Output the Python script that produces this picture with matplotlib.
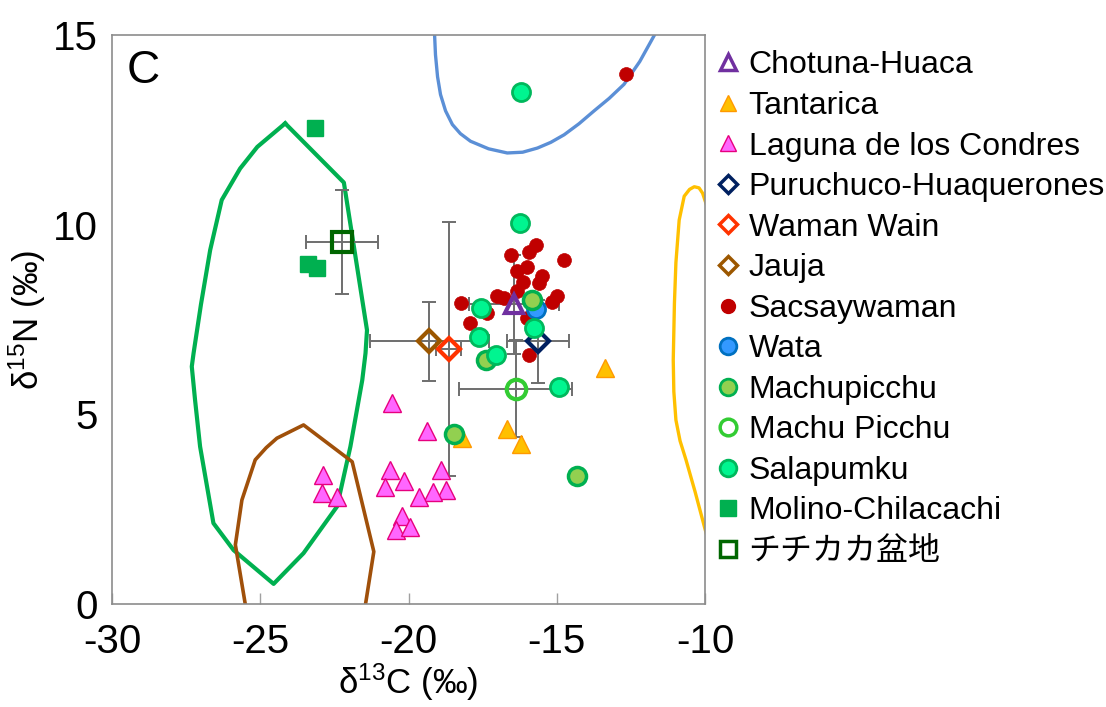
import matplotlib.pyplot as plt
from matplotlib.lines import Line2D

plt.rcParams['font.family'] = ['Liberation Sans', 'DejaVu Sans']
plt.rcParams['mathtext.fontset'] = 'custom'
plt.rcParams['mathtext.rm'] = 'Liberation Sans'
plt.rcParams['axes.unicode_minus'] = False

# ---- data ----
chotuna_x, chotuna_y = [-16.45], [7.90]
tantarica_x = [-13.38, -16.67, -16.22, -18.19]
tantarica_y = [6.21, 4.61, 4.22, 4.37]
laguna_x = [-20.54, -19.36, -22.88, -22.92, -22.41, -20.61, -20.78, -20.14,
            -18.89, -18.73, -19.18, -19.63, -20.21, -20.42, -19.96]
laguna_y = [5.30, 4.57, 3.40, 2.92, 2.83, 3.53, 3.09, 3.23,
            3.53, 3.01, 2.94, 2.83, 2.32, 1.95, 2.04]
puru_x, puru_y = [-15.63], [6.92]
waman_x, waman_y = [-18.64], [6.72]
jauja_x, jauja_y = [-19.30], [6.92]
sacsay_x = [-16.55, -15.94, -15.69, -14.75, -15.99, -16.35, -15.49, -15.60, -16.13, -16.35,
            -17.00, -16.78, -18.24, -14.98, -15.15, -17.34, -17.91, -15.99, -15.94, -12.67]
sacsay_y = [9.20, 9.29, 9.47, 9.07, 8.89, 8.77, 8.64, 8.46, 8.50, 8.24,
            8.11, 8.06, 7.93, 8.11, 7.97, 7.66, 7.42, 7.53, 6.57, 13.96]
wata_x, wata_y = [-15.71], [7.77]
machu_x = [-15.82, -17.40, -18.47, -14.32]
machu_y = [8.01, 6.43, 4.48, 3.37]
mp_x, mp_y = [-16.39], [5.67]
sala_x = [-16.22, -16.24, -17.57, -15.77, -17.62, -17.06, -14.92]
sala_y = [13.49, 10.04, 7.80, 7.27, 7.03, 6.57, 5.73]
molino_x = [-23.17, -23.40, -23.08]
molino_y = [12.56, 8.96, 8.87]
titi_x, titi_y = [-22.24], [9.54]

# mean +- sd bars: (x, y, xerr, yerr)
err_x = [-16.45, -15.63, -18.64, -19.30, -16.39, -22.24]
err_y = [7.90, 6.92, 6.72, 6.92, 5.67, 9.54]
err_xe = [1.52, 1.04, 0.42, 2.00, 1.90, 1.22]
err_ye = [1.30, 1.10, 3.35, 1.05, 1.28, 1.37]

# range outlines
green_px = [-24.16, -25.10, -25.68, -26.30, -26.69, -27.00, -27.25, -27.31, -27.20, -27.03,
            -26.58, -25.90, -24.55, -23.54, -22.41, -21.96, -21.56, -21.45, -21.40, -22.18,
            -24.16]
green_py = [12.67, 12.05, 11.48, 10.65, 9.33, 7.90, 6.61, 6.26, 5.38, 4.15,
            2.13, 1.42, 0.53, 1.34, 2.57, 4.15, 5.90, 6.61, 7.22, 11.11,
            12.67]
brown_px = [-25.40, -25.84, -25.62, -25.17, -24.80, -24.44, -23.54, -21.90, -21.17, -21.55]
brown_py = [-0.50, 1.56, 2.74, 3.80, 4.12, 4.37, 4.72, 3.75, 1.38, -0.50]
blue_px = [-19.13, -19.12, -19.09, -19.02, -18.92, -18.75, -18.52, -18.25, -17.91, -17.30,
           -16.67, -16.15, -15.65, -15.20, -14.75, -14.25, -13.74, -13.23, -12.73, -12.20,
           -11.71, -11.55]
blue_py = [15.30, 15.00, 14.48, 13.90, 13.43, 13.00, 12.64, 12.40, 12.20, 12.00,
           11.89, 11.91, 12.02, 12.17, 12.37, 12.66, 13.00, 13.33, 13.70, 14.30,
           14.99, 15.30]
yellow_px = [-9.80, -9.97, -10.08, -10.20, -10.36, -10.52, -10.70, -10.87, -10.98, -11.03,
             -11.07, -11.05, -10.98, -10.84, -10.64, -10.33, -10.02, -9.90]
yellow_py = [10.20, 10.57, 10.83, 10.97, 11.00, 10.93, 10.75, 10.12, 9.00, 7.93,
             6.43, 5.60, 4.85, 4.30, 3.80, 2.95, 2.04, 1.70]

fig = plt.figure(figsize=(11.06, 7.07), dpi=100)
ax = fig.add_axes([0.1013, 0.1457, 0.5361, 0.8048])

ax.plot(green_px, green_py, color='#00B050', lw=3, zorder=1)
ax.plot(brown_px, brown_py, color='#A0500A', lw=2.6, zorder=1)
ax.plot(blue_px, blue_py, color='#5B8FD6', lw=2.4, zorder=1)
ax.plot(yellow_px, yellow_py, color='#FFC000', lw=2.4, zorder=1)

ax.errorbar(err_x, err_y, xerr=err_xe, yerr=err_ye, fmt='none', ecolor='#6E6E6E',
            elinewidth=1.4, capsize=5, capthick=1.4, zorder=2)

ax.plot(sacsay_x, sacsay_y, 'o', ms=10, mfc='#C00000', mec='#C00000', mew=0.5, zorder=3)
ax.plot(wata_x, wata_y, 'o', ms=13, mfc='#3399FF', mec='#0070C0', mew=2, zorder=3)
ax.plot(chotuna_x, chotuna_y, '^', ms=13, mfc='none', mec='#7030A0', mew=3, zorder=4)
ax.plot(tantarica_x, tantarica_y, '^', ms=13, mfc='#FFC000', mec='#FF9900', mew=1, zorder=4)
ax.plot(laguna_x, laguna_y, '^', ms=13, mfc='#FF66FF', mec='#E6007E', mew=1, zorder=4)
ax.plot(puru_x, puru_y, 'D', ms=11, mfc='none', mec='#002060', mew=3, zorder=4)
ax.plot(waman_x, waman_y, 'D', ms=11, mfc='none', mec='#FF3300', mew=3, zorder=4)
ax.plot(jauja_x, jauja_y, 'D', ms=11, mfc='none', mec='#9C5700', mew=3, zorder=4)
ax.plot(machu_x, machu_y, 'o', ms=13, mfc='#92D050', mec='#00B050', mew=2.5, zorder=5)
ax.plot(mp_x, mp_y, 'o', ms=14, mfc='none', mec='#33CC33', mew=3, zorder=5)
ax.plot(sala_x, sala_y, 'o', ms=13, mfc='#00F590', mec='#00B85C', mew=2, zorder=6)
ax.plot(molino_x, molino_y, 's', ms=11, mfc='#00B050', mec='#00B050', zorder=5)
ax.plot(titi_x, titi_y, 's', ms=14, mfc='none', mec='#006600', mew=3, zorder=5)

ax.set_xlim(-30, -10)
ax.set_ylim(0, 15)
ax.set_xticks([-30, -25, -20, -15, -10])
ax.set_yticks([0, 5, 10, 15])
ax.tick_params(axis='x', direction='in', length=8, width=1, color='#A0A0A0',
               labelsize=29, pad=14)
ax.tick_params(axis='y', length=0, labelsize=29, pad=10)
for s in ax.spines.values():
    s.set_color('#8C8C8C')
    s.set_linewidth(1.2)

ax.set_xlabel(r'$\mathregular{δ^{13}}$C (‰)', fontsize=25, labelpad=0)
ax.set_ylabel(r'$\mathregular{δ^{15}}$N (‰)', fontsize=25, labelpad=4)
ax.text(0.025, 0.975, 'C', transform=ax.transAxes, fontsize=33, va='top', ha='left')

handles = [
    Line2D([], [], ls='none', marker='^', ms=11, mfc='none', mec='#7030A0', mew=2.5),
    Line2D([], [], ls='none', marker='^', ms=11, mfc='#FFC000', mec='#FF9900', mew=1),
    Line2D([], [], ls='none', marker='^', ms=11, mfc='#FF66FF', mec='#E6007E', mew=1),
    Line2D([], [], ls='none', marker='D', ms=9, mfc='none', mec='#002060', mew=2.5),
    Line2D([], [], ls='none', marker='D', ms=9, mfc='none', mec='#FF3300', mew=2.5),
    Line2D([], [], ls='none', marker='D', ms=9, mfc='none', mec='#9C5700', mew=2.5),
    Line2D([], [], ls='none', marker='o', ms=10, mfc='#C00000', mec='#C00000'),
    Line2D([], [], ls='none', marker='o', ms=12, mfc='#3399FF', mec='#0070C0', mew=2),
    Line2D([], [], ls='none', marker='o', ms=12, mfc='#92D050', mec='#00B050', mew=2),
    Line2D([], [], ls='none', marker='o', ms=12, mfc='none', mec='#33CC33', mew=2.5),
    Line2D([], [], ls='none', marker='o', ms=12, mfc='#00F590', mec='#00B85C', mew=2),
    Line2D([], [], ls='none', marker='s', ms=11, mfc='#00B050', mec='#00B050'),
    Line2D([], [], ls='none', marker='s', ms=12, mfc='none', mec='#006600', mew=2.5),
]
labels = ['Chotuna-Huaca', 'Tantarica', 'Laguna de los Condres', 'Puruchuco-Huaquerones',
          'Waman Wain', 'Jauja', 'Sacsaywaman', 'Wata', 'Machupicchu', 'Machu Picchu',
          'Salapumku', 'Molino-Chilacachi', 'チチカカ盆地']
fig.legend(handles, labels, loc='upper left', bbox_to_anchor=(0.645, 0.9286),
           frameon=False, handlelength=0.9, handletextpad=0.2, labelspacing=0.33,
           borderpad=0, borderaxespad=0,
           prop={'family': ['Liberation Sans', 'Noto Sans CJK JP'], 'size': 23})

fig.savefig('out.png', dpi=100)
